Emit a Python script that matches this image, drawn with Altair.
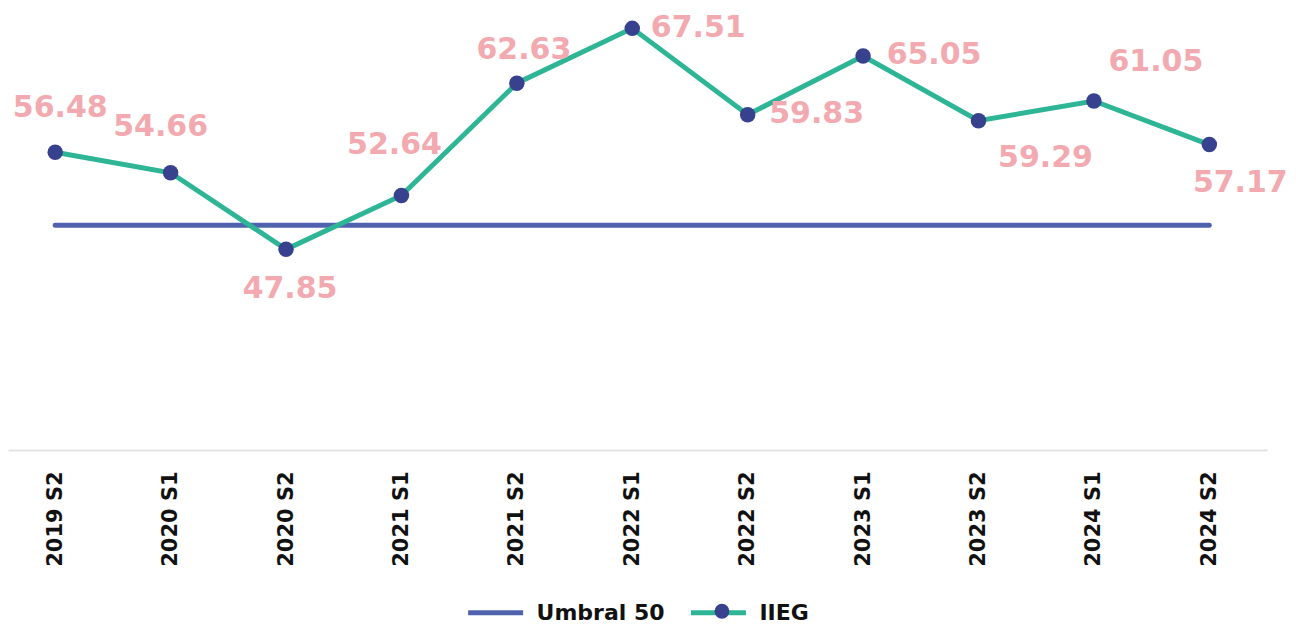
import altair as alt
import pandas as pd

PERIODS = ["2019 S2", "2020 S1", "2020 S2", "2021 S1", "2021 S2", "2022 S1",
           "2022 S2", "2023 S1", "2023 S2", "2024 S1", "2024 S2"]
IIEG = [56.48, 54.66, 47.85, 52.64, 62.63, 67.51, 59.83, 65.05, 59.29, 61.05, 57.17]
THRESHOLD = 50
SERIES = ["Umbral 50", "IIEG"]

# label placement (style only): offset of each value label from its point
LABEL_OFFSETS = {
    "2019 S2": (5, -44), "2020 S1": (-10, -46), "2020 S2": (4, 40),
    "2021 S1": (-7, -50), "2021 S2": (7, -33), "2022 S1": (66, 0),
    "2022 S2": (69, -1), "2023 S1": (71, -1), "2023 S2": (67, 37),
    "2024 S1": (62, -39), "2024 S2": (31, 38),
}

BLUE = "#5062AE"
TEAL = "#2DB596"
NAVY = "#38418D"
PINK = "#F2A9AF"
FONT = "DejaVu Sans"

df = pd.DataFrame({"period": PERIODS, "value": IIEG, "series": "IIEG", "pt": "IIEG"})
df["label"] = df["value"].map(lambda v: f"{v:.2f}")
thr = pd.DataFrame({"period": PERIODS, "value": [THRESHOLD] * len(PERIODS), "series": "Umbral 50"})

x = alt.X("period:N", sort=PERIODS,
          scale=alt.Scale(type="point", padding=0.4545, align=0.45),
          axis=alt.Axis(title=None, labelAngle=-90, labelFontSize=21, labelFont=FONT,
                        labelFontWeight="bold", labelColor="#111111", labelPadding=21,
                        ticks=False, domainColor="#e3e3e3", domainWidth=2, grid=False))
y = alt.Y("value:Q", scale=alt.Scale(domain=[30, 69.3], nice=False, zero=False), axis=None)

color = alt.Color("series:N",
                  scale=alt.Scale(domain=SERIES, range=[BLUE, TEAL]),
                  legend=alt.Legend(title=None, orient="none", legendX=458, legendY=575,
                                    direction="horizontal", symbolType="stroke",
                                    symbolSize=3025, symbolStrokeWidth=5, labelOffset=11,
                                    columnPadding=15, labelFont=FONT, labelFontSize=22,
                                    labelFontWeight="bold", labelColor="#111111"))

base = alt.Chart(df)
thr_line = alt.Chart(thr).mark_line(strokeWidth=5, strokeCap="round").encode(x=x, y=y, color=color)
main_line = base.mark_line(strokeWidth=5).encode(x=x, y=y, color=color)
points = base.mark_circle(size=240, opacity=1).encode(
    x=x, y=y,
    fill=alt.Fill("pt:N", scale=alt.Scale(domain=["IIEG"], range=[NAVY]),
                  legend=alt.Legend(title=None, orient="none", legendX=707, legendY=596,
                                    symbolType="circle", symbolSize=220, labelExpr="''",
                                    symbolStrokeWidth=0)))

layers = [thr_line, main_line, points]
for p, (dx, dy) in LABEL_OFFSETS.items():
    layers.append(
        base.transform_filter(alt.datum.period == p).mark_text(
            font=FONT, fontSize=30, fontWeight="bold", color=PINK,
            align="center", baseline="middle", dx=dx, dy=dy
        ).encode(x=x, y=y, text="label:N")
    )

chart = alt.layer(*layers).properties(width=1260, height=442, padding=0).configure(
    background="white").configure_view(stroke=None)

chart.save("out.html", embed_options={"renderer": "svg", "actions": False})
